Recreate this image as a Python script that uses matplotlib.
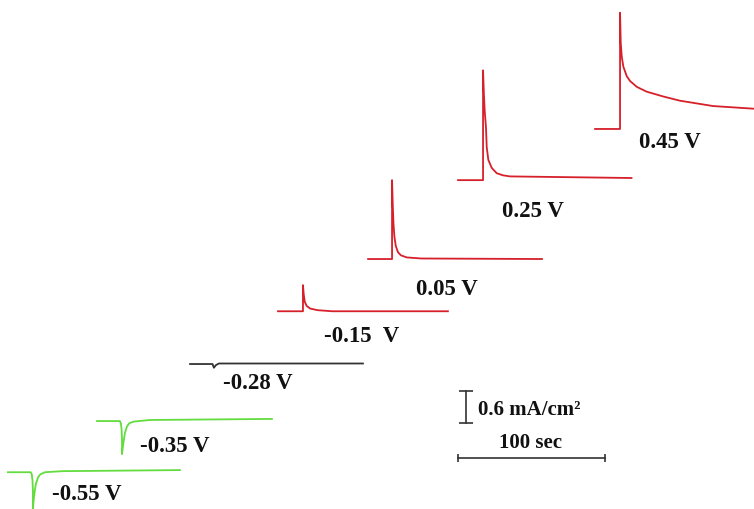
import matplotlib
matplotlib.use("Agg")
import numpy as np
from matplotlib import pyplot as plt

# %%
# chronoamperometry traces, time in s (step at t=0), current in mA/cm2
labels = ["0.45 V", "0.25 V", "0.05 V", "-0.15  V", "-0.28 V", "-0.35 V", "-0.55 V"]

t_045 = [-17, 0, 0, 0.48, 1.16, 2.24, 4.56, 6.8, 11.4, 18.1, 29.3, 40.8, 63.3, 91]
i_045 = [0, 0, 2.18, 1.61, 1.36, 1.17, 0.99, 0.90, 0.79, 0.70, 0.61, 0.53, 0.43, 0.38]

t_025 = [-17, 0, 0, 0.6, 1.1, 2.0, 2.5, 3.6, 5.9, 9.3, 13.6, 18.4, 101]
i_025 = [0, 0, 2.06, 1.6, 1.31, 0.99, 0.62, 0.38, 0.23, 0.13, 0.09, 0.07, 0.04]

t_005 = [-16.3, 0, 0, 0.5, 1.0, 1.6, 2.5, 4.0, 6.0, 10, 20, 102]
i_005 = [0, 0, 1.48, 1.0, 0.65, 0.42, 0.25, 0.13, 0.07, 0.03, 0.01, 0.0]

t_m015 = [-17, 0, 0, 0.5, 1.2, 2.5, 5, 10, 20, 98.6]
i_m015 = [0, 0, 0.49, 0.32, 0.18, 0.10, 0.05, 0.02, 0.0, 0.0]

t_m028 = [-15.6, -0.3, 0.6, 2.0, 4.0, 102]
i_m028 = [0, 0, -0.07, -0.02, 0.01, 0.01]

t_m035 = [-17, -1.5, -0.8, -0.3, 0, 0, 0.5, 1.2, 2.0, 3.4, 5, 8, 19, 102]
i_m035 = [0, 0, -0.04, -0.15, -0.35, -0.62, -0.5, -0.36, -0.22, -0.10, -0.04, -0.01, 0.02, 0.04]

t_m055 = [-17, -1.5, -0.8, -0.3, 0, 0, 0.5, 1.2, 2.0, 3.4, 5, 8.2, 20, 100]
i_m055 = [0, 0, -0.04, -0.15, -0.35, -0.68, -0.52, -0.36, -0.22, -0.10, -0.04, 0.0, 0.02, 0.04]

# where each trace sits in the stacked drawing (s, mA/cm2)
x_off = [421.8, 328.6, 266.7, 206.1, 144.9, 83.0, 22.4]
y_off = [7.13, 6.17, 4.69, 3.71, 2.72, 1.65, 0.69]

scale_t = 100   # sec
scale_i = 0.6   # mA/cm2

# %%
times = [t_045, t_025, t_005, t_m015, t_m028, t_m035, t_m055]
currents = [i_045, i_025, i_005, i_m015, i_m028, i_m035, i_m055]
red, black, green = "#d6202a", "#333333", "#62dc3e"
colors = [red, red, red, red, black, green, green]

label_pos = [(455.8, 6.87), (362.6, 5.59), (304.1, 4.11), (246.3, 3.23),
             (175.5, 2.36), (119.0, 1.18), (59.2, 0.28)]

plt.rcParams["font.family"] = ["Liberation Serif", "DejaVu Serif"]
fig = plt.figure(figsize=(7.54, 5.09), dpi=100)
ax = fig.add_axes([0, 0, 1, 1])
ax.set_xlim(0, 754 / 1.47)
ax.set_ylim(0, 509 / 53.3)
ax.axis("off")

for t, i, x0, y0, c in zip(times, currents, x_off, y_off, colors):
    ax.plot(np.array(t) + x0, np.array(i) + y0, color=c, lw=1.3,
            solid_joinstyle="round")

for lab, (x, y) in zip(labels, label_pos):
    ax.text(x, y, lab, ha="center", va="center", fontsize=16.5,
            fontweight="bold", color="#111111")

# scale bars
bx, by = 311.6, 0.957
ax.plot([bx, bx + scale_t], [by, by], color=black, lw=1.2)
ax.plot([bx, bx + scale_t], [by, by], ls="none", marker="|", ms=6,
        mew=1.2, color=black)
vx, vy = 317.0, 1.61
ax.plot([vx, vx], [vy, vy + scale_i], color=black, lw=1.2)
ax.plot([vx, vx], [vy, vy + scale_i], ls="none", marker="_", ms=10,
        mew=1.2, color=black)
ax.text(325.2, 1.86, "0.6 mA/cm\u00b2", ha="left", va="center", fontsize=15,
        fontweight="bold", color="#111111")
ax.text(361.2, 1.24, f"{scale_t} sec", ha="center", va="center",
        fontsize=15, fontweight="bold", color="#111111")

fig.savefig("out.png", dpi=100, facecolor="white")
